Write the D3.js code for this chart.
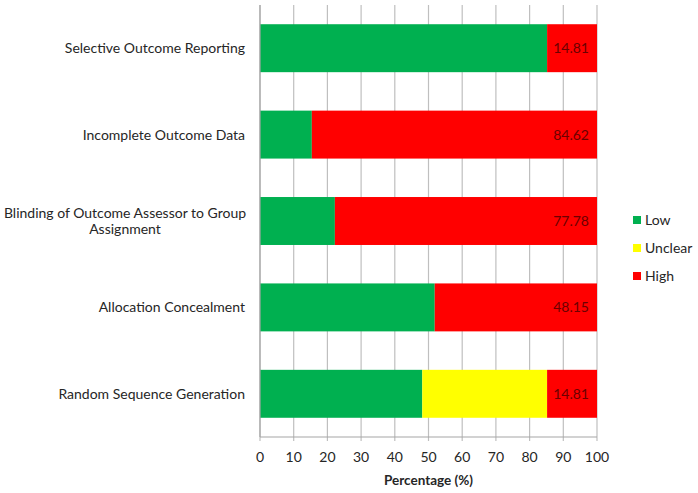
<!DOCTYPE html>
<html><head><meta charset="utf-8">
<script src="https://cdn.jsdelivr.net/npm/d3@7"></script>
<style>body{margin:0;background:#fff;} svg{display:block;font-family:Lato,"Open Sans",sans-serif;}</style>
</head><body>
<svg id="c" width="698" height="493"></svg>
<script>
const categories = ["Selective Outcome Reporting","Incomplete Outcome Data","Blinding of Outcome Assessor to Group Assignment","Allocation Concealment","Random Sequence Generation"];
const lowValues = [85.19, 15.38, 22.22, 51.85, 48.15];
const unclearValues = [0, 0, 0, 0, 37.04];
const highValues = [14.81, 84.62, 77.78, 48.15, 14.81];
const seriesNames = ["Low","Unclear","High"];
const seriesColors = ["#00b050","#ffff00","#ff0000"];
const xTicks = [0,10,20,30,40,50,60,70,80,90,100];
const labelLines = {"Blinding of Outcome Assessor to Group Assignment":["Blinding of Outcome Assessor to Group","Assignment"]};

const svg = d3.select("#c");
const m = {left:260, right:597, top:5, bottom:437};
const x = d3.scaleLinear().domain([0,100]).range([m.left, m.right]);
const y = d3.scaleBand().domain(categories).range([m.top, m.bottom]).paddingInner(0.445).paddingOuter(0.2225);

const rows = categories.map((c,i)=>({cat:c, Low:lowValues[i], Unclear:unclearValues[i], High:highValues[i]}));
const stack = d3.stack().keys(seriesNames)(rows);

// gridlines
svg.append("g").selectAll("line").data(xTicks).join("line")
  .attr("x1",d=>x(d)).attr("x2",d=>x(d)).attr("y1",m.top).attr("y2",m.bottom+4)
  .attr("stroke","#bfbfbf").attr("stroke-width",1.2);

// bars
svg.append("g").selectAll("g").data(stack).join("g")
  .attr("fill",(d,i)=>seriesColors[i])
  .selectAll("rect").data(d=>d.filter(s=>s[1]-s[0]>0)).join("rect")
  .attr("x",d=>x(d[0])).attr("width",d=>x(d[1])-x(d[0]))
  .attr("y",d=>y(d.data.cat)).attr("height",y.bandwidth());

// axes lines
svg.append("line").attr("x1",m.left).attr("x2",m.left).attr("y1",m.top).attr("y2",m.bottom).attr("stroke","#a6a6a6").attr("stroke-width",1.2);
svg.append("line").attr("x1",m.left).attr("x2",m.right).attr("y1",m.bottom).attr("y2",m.bottom).attr("stroke","#a6a6a6").attr("stroke-width",1.2);

// data labels
svg.append("g").selectAll("text").data(rows).join("text")
  .attr("x",x(100)-8).attr("y",d=>y(d.cat)+y.bandwidth()/2).attr("dy","0.35em")
  .attr("text-anchor","end").attr("font-size",14).attr("fill","#6b0000")
  .text(d=>d.High.toFixed(2));

// x tick labels
svg.append("g").selectAll("text").data(xTicks).join("text")
  .attr("x",d=>x(d)).attr("y",462).attr("text-anchor","middle").attr("font-size",14).attr("fill","#262626")
  .text(d=>d);
svg.append("text").attr("x",(m.left+m.right)/2).attr("y",485).attr("text-anchor","middle")
  .attr("font-size",13.5).attr("font-weight","bold").attr("fill","#262626").text("Percentage (%)");

// category labels
const cl = svg.append("g").selectAll("text").data(categories).join("text")
  .attr("x",245).attr("text-anchor","end").attr("font-size",14).attr("fill","#262626")
  .attr("y",d=>y(d)+y.bandwidth()/2);
cl.each(function(d){
  const lines = labelLines[d] || [d];
  const t = d3.select(this);
  lines.forEach((l,i)=>{
    t.append("tspan").attr("x", lines.length>1 && i>0 ? 245 - 0 : 245)
     .attr("text-anchor", lines.length>1 ? "middle" : "end")
     .attr("dy", i===0 ? (0.35 - (lines.length-1)*0.6)+"em" : "1.2em").text(l);
  });
  if(lines.length>1){ t.selectAll("tspan").attr("x",125).attr("text-anchor","middle"); }
});

// legend
const lg = svg.append("g").selectAll("g").data(seriesNames).join("g")
  .attr("transform",(d,i)=>`translate(633,${220+i*28})`);
lg.append("rect").attr("x",0).attr("y",-4).attr("width",8).attr("height",8).attr("fill",(d,i)=>seriesColors[i]);
lg.append("text").attr("x",12).attr("dy","0.35em").attr("font-size",14).attr("fill","#262626").text(d=>d);
</script>
</body></html>
